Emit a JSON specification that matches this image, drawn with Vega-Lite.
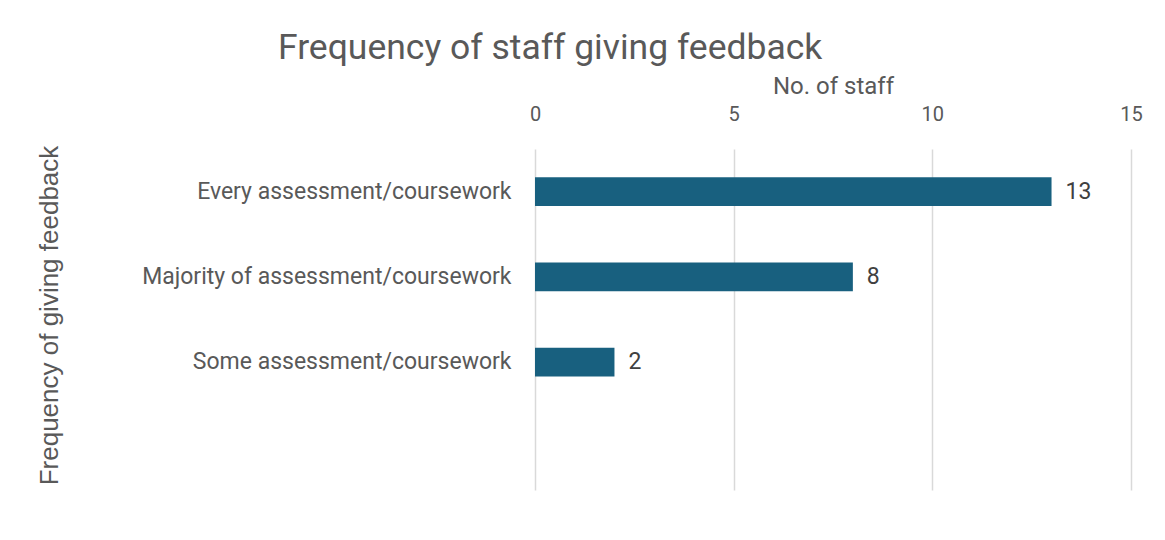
{
  "$schema": "https://vega.github.io/schema/vega-lite/v6.json",
  "autosize": "none",
  "width": 596,
  "height": 341,
  "padding": {"left": 535, "top": 149, "right": 34, "bottom": 50},
  "background": "white",
  "title": {
    "text": "Frequency of staff giving feedback",
    "anchor": "start",
    "frame": "group",
    "dx": -257,
    "font": "Roboto",
    "fontSize": 35.5,
    "fontWeight": "normal",
    "color": "#595959",
    "offset": 8
  },
  "data": {
    "values": [
      {"category": "Every assessment/coursework", "staff": 13},
      {"category": "Majority of assessment/coursework", "staff": 8},
      {"category": "Some assessment/coursework", "staff": 2}
    ]
  },
  "encoding": {
    "y": {
      "field": "category",
      "type": "nominal",
      "sort": null,
      "scale": {
        "domain": ["Every assessment/coursework", "Majority of assessment/coursework", "Some assessment/coursework", " "],
        "paddingInner": 0.66,
        "paddingOuter": 0.33
      },
      "axis": {
        "title": "Frequency of giving  feedback",
        "titleFont": "Liberation Sans",
        "titleFontSize": 26,
        "titleFontWeight": "normal",
        "titleColor": "#595959",
        "titleAngle": -90,
        "titleX": -486,
        "titleY": 166,
        "titleAlign": "center",
        "titleBaseline": "middle",
        "labelFont": "Roboto",
        "labelFontSize": 23,
        "labelColor": "#595959",
        "labelPadding": 24,
        "labelLimit": 500,
        "ticks": false,
        "domain": false,
        "grid": false
      }
    },
    "x": {
      "field": "staff",
      "type": "quantitative",
      "scale": {"domain": [0, 15], "nice": false},
      "axis": {
        "orient": "top",
        "values": [0, 5, 10, 15],
        "title": "No. of staff",
        "titleFont": "Roboto",
        "titleFontSize": 24,
        "titleFontWeight": "normal",
        "titleColor": "#595959",
        "titlePadding": 6,
        "labelFont": "Roboto",
        "labelFontSize": 20,
        "labelColor": "#595959",
        "labelPadding": 25,
        "labelFlush": false,
        "ticks": false,
        "domain": false,
        "grid": true,
        "gridColor": "#d9d9d9",
        "gridWidth": 1.5
      }
    }
  },
  "layer": [
    {
      "mark": {"type": "bar", "color": "#18607f"}
    },
    {
      "mark": {"type": "text", "align": "left", "baseline": "middle", "dx": 14, "font": "Roboto", "fontSize": 23, "color": "#404040"},
      "encoding": {"text": {"field": "staff", "type": "quantitative"}}
    }
  ],
  "config": {"view": {"stroke": null}}
}
